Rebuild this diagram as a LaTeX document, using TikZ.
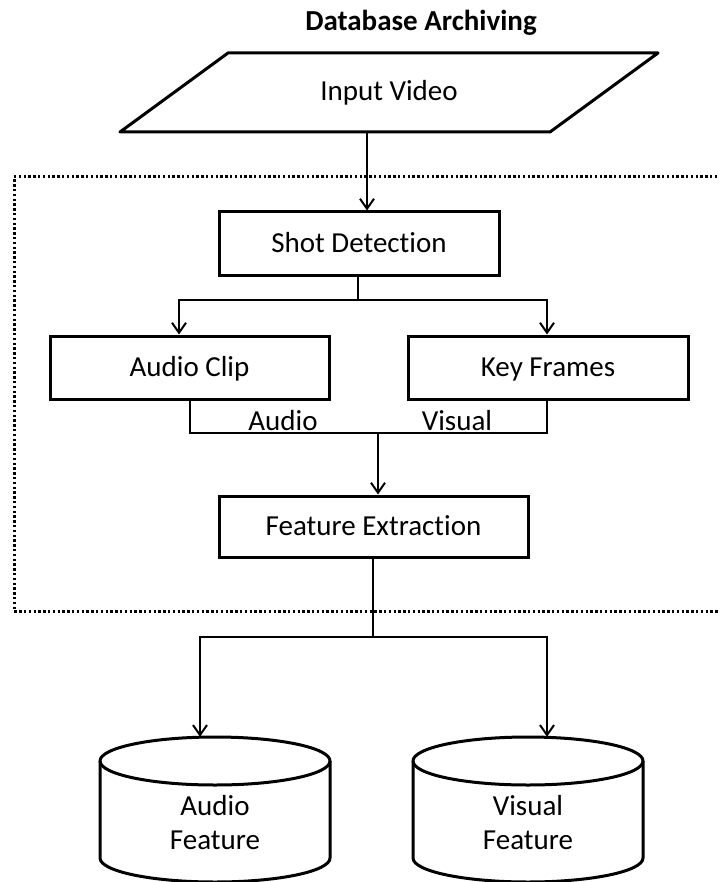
\documentclass[tikz,border=0pt]{standalone}
\usepackage{fontspec}
\setmainfont{Carlito}[Ligatures=NoCommon]
\usetikzlibrary{arrows.meta}
\begin{document}
\begin{tikzpicture}[x=1pt,y=-1pt,
  txt/.style={font=\fontsize{29}{34}\selectfont, inner sep=0pt, align=center},
  box/.style={draw, line width=3pt, inner sep=0pt, text height=22pt, text depth=3.3pt, font=\fontsize{29}{34}\selectfont},
  shapeline/.style={line width=3pt, line join=round},
  conn/.style={line width=2pt},
  arr/.style={line width=2pt, -{Straight Barb[length=10pt,width=14pt,line width=2pt]}},
  dotline/.style={line width=3pt, dash pattern=on 2.4pt off 2.4pt}]
\useasboundingbox[fill=white] (0,0) rectangle (719,882);
% title
\node[txt, font=\fontsize{29}{34}\selectfont\bfseries] (title) at (421,23) {Database Archiving};
% input parallelogram
\draw[shapeline] (228,53) -- (658,53) -- (550,132) -- (120,132) -- cycle;
\node[txt, minimum width=200pt, minimum height=79pt] (inp) at (389,92.5) {Input Video};
\coordinate (a1) at (367,132);
% dotted region
\draw[dotline] (722,177) -- (14,177) -- (14,611) -- (722,611);
% boxes
\node[box, minimum width=280pt, minimum height=63pt] (shot) at (359,243.5) {Shot Detection};
\node[box, minimum width=279pt, minimum height=63pt] (audio) at (189.5,367.5) {Audio Clip};
\node[box, minimum width=280pt, minimum height=63pt] (key) at (548,367.5) {Key Frames};
\node[box, minimum width=309pt, minimum height=61pt] (fe) at (373.5,526.5) {Feature Extraction};
% connectors
\draw[arr] (a1) -- (a1 |- shot.north);
\coordinate (j1) at (358,300);
\draw[conn] (shot.south -| j1) -- (j1);
\draw[arr] (j1) -| ([xshift=-10.5pt]audio.north);
\draw[arr] (j1) -| ([xshift=-1pt]key.north);
\coordinate (j2) at (378,433);
\coordinate (kb) at ([xshift=-1pt]key.south);
\draw[conn] (audio.south) -- (audio.south |- j2) -- (kb |- j2) -- (kb);
\draw[arr] (j2) -- (j2 |- fe.north);
\node[txt] (lab1) at (283,421) {Audio};
\node[txt] (lab2) at (457,421) {Visual};
% cylinders
\node[minimum width=230pt, minimum height=145pt, inner sep=0pt] (acyl) at (215,809.5) {};
\node[minimum width=230pt, minimum height=145pt, inner sep=0pt] (vcyl) at (528,809.5) {};
\draw[shapeline] (215,761) ellipse [x radius=115pt, y radius=24pt];
\draw[shapeline] (100,761) -- (100,858) arc[start angle=180, end angle=360, x radius=115pt, y radius=24pt] -- (330,761);
\draw[shapeline] (528,761) ellipse [x radius=115pt, y radius=24pt];
\draw[shapeline] (413,761) -- (413,858) arc[start angle=180, end angle=360, x radius=115pt, y radius=24pt] -- (643,761);
\node[txt] (atext) at (215,823) {Audio\\Feature};
\node[txt] (vtext) at (528,823) {Visual\\Feature};
\coordinate (j3) at (373,637);
\draw[conn] (fe.south -| j3) -- (j3);
\draw[arr] (j3) -| ([xshift=-15pt]acyl.north);
\draw[arr] (j3) -| ([xshift=19pt]vcyl.north);
\end{tikzpicture}
\end{document}
